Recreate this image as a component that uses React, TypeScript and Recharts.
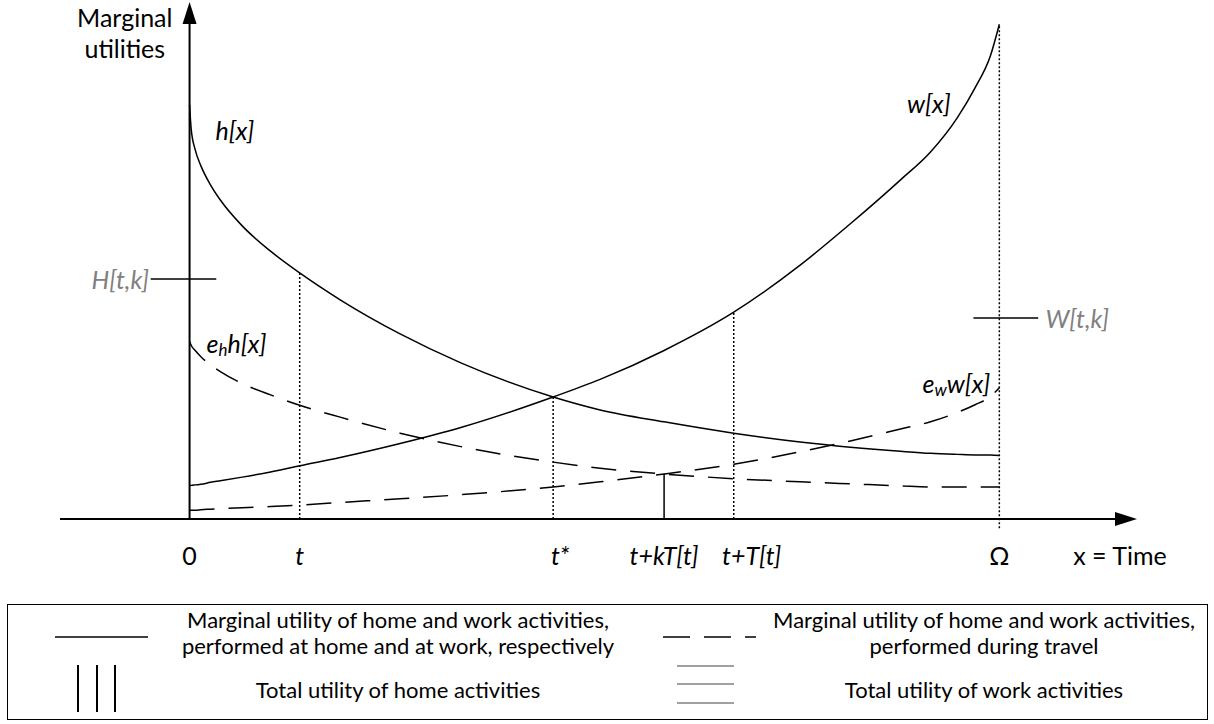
import React from "react";
import {
  ComposedChart,
  Line,
  XAxis,
  YAxis,
  ReferenceLine,
  ReferenceDot,
} from "recharts";

/* -----------------------------
   Data
   time: Omega = 10, height: axis top = 100
----------------------------- */
const TIME = [0, 0.02, 0.07, 0.14, 0.26, 0.38, 0.65, 1.0, 1.36, 1.86, 2.6, 3.35, 4.49, 5.07, 5.86, 6.72, 7.54, 8.16, 8.78, 9.15, 9.48, 9.7, 9.89, 10];
const HOME = [80.1, 75.4, 71.4, 68.3, 64.6, 61.7, 56.7, 51.8, 47.6, 42.4, 35.8, 30.2, 23.6, 21.1, 18.8, 16.6, 14.9, 13.9, 13.1, 12.7, 12.5, 12.4, 12.4, 12.3];
const WORK = [6.4, 6.5, 6.6, 6.7, 7.1, 7.4, 8.1, 9.1, 10.3, 11.9, 14.6, 17.7, 23.6, 27.0, 32.6, 40.0, 49.1, 57.1, 65.6, 71.0, 77.6, 83.4, 89.6, 95.7];
const HOME_TRAVEL = [34.4, 33.6, 32.6, 31.4, 29.8, 28.5, 26.2, 24.0, 22.0, 19.7, 16.6, 14.0, 11.0, 9.8, 8.7, 7.8, 7.2, 6.8, 6.4, 6.2, 6.2, 6.2, 6.2, 6.2];
const WORK_TRAVEL = [1.7, 1.7, 1.7, 1.8, 1.9, 2.0, 2.2, 2.4, 2.7, 3.2, 3.9, 4.7, 6.2, 7.2, 8.7, 10.6, 13.0, 15.1, 17.4, 18.8, 20.6, 22.1, 23.7, 25.4];

const TICKS = [0, 1.36, 4.49, 5.86, 6.72, 10];
const TICK_LABELS = ["0", "t", "t*", "t+kT[t]", "t+T[t]", "Ω"];
const TICK_ITALIC = [false, true, true, true, true, false];

const TOTAL_HOME = 46.4; // H[t,k]
const TOTAL_WORK = 38.9; // W[t,k]

const data = TIME.map((x, i) => ({
  x,
  h: HOME[i],
  w: WORK[i],
  eh: HOME_TRAVEL[i],
  ew: WORK_TRAVEL[i],
}));

const at = (arr: number[], x: number) => arr[TIME.indexOf(x)];

const FONT = "Lato, 'Open Sans', sans-serif";
const GRAY = "#808080";
const FS = 25;

const TICK_SHIFT = [0, 0, 7, 0, 18, 0];

function TimeTick(props: any) {
  const { x, y, payload } = props;
  const i = TICKS.indexOf(payload.value);
  return (
    <text
      x={x + (TICK_SHIFT[i] || 0)}
      y={y + 36}
      textAnchor="middle"
      dominantBaseline="central"
      fontFamily={FONT}
      fontSize={FS}
      fontStyle={TICK_ITALIC[i] ? "italic" : "normal"}
      fill="#000"
    >
      {TICK_LABELS[i]}
    </text>
  );
}

function Txt(props: any) {
  const { cx, cy, children, color = "#000", anchor = "start", italic = true } = props;
  return (
    <text
      x={cx}
      y={cy}
      textAnchor={anchor}
      dominantBaseline="central"
      fontFamily={FONT}
      fontSize={FS}
      fontStyle={italic ? "italic" : "normal"}
      fill={color}
    >
      {children}
    </text>
  );
}

function XAxisArrow(props: any) {
  const { x1, y1, x2 } = props;
  return (
    <g>
      <line x1={x1} y1={y1} x2={x2 - 18} y2={y1} stroke="#000" strokeWidth={2} />
      <polygon points={`${x2 - 22},${y1 - 7} ${x2},${y1} ${x2 - 22},${y1 + 7}`} fill="#000" />
    </g>
  );
}

function YAxisArrow(props: any) {
  const { x1, y1, y2 } = props;
  const top = Math.min(y1, y2);
  const bottom = Math.max(y1, y2);
  return (
    <g>
      <line x1={x1} y1={bottom} x2={x1} y2={top + 18} stroke="#000" strokeWidth={2} />
      <polygon points={`${x1 - 7},${top + 22} ${x1},${top} ${x1 + 7},${top + 22}`} fill="#000" />
    </g>
  );
}

export default function App() {
  const dotted = { stroke: "#000", strokeWidth: 1.5, strokeDasharray: "2 2" };

  return (
    <div style={{ position: "absolute", left: 0, top: 0, width: 1214, height: 724, background: "#fff" }}>
      <ComposedChart
        width={1214}
        height={600}
        data={data}
        margin={{ top: 2, right: 77, left: 60, bottom: 31 }}
        style={{ position: "absolute", left: 0, top: 0 }}
      >
        <XAxis
          type="number"
          dataKey="x"
          domain={[-1.6, 11.7]}
          ticks={TICKS}
          interval={0}
          axisLine={false}
          tickLine={false}
          tickSize={0}
          tickMargin={0}
          height={50}
          tick={<TimeTick />}
          allowDataOverflow
        />
        <YAxis type="number" domain={[0, 100]} hide allowDataOverflow />

        {/* axes */}
        <ReferenceLine y={0} shape={<XAxisArrow />} />
        <ReferenceLine x={0} shape={<YAxisArrow />} />

        {/* dotted guides */}
        <ReferenceLine segment={[{ x: TICKS[1], y: 0 }, { x: TICKS[1], y: at(HOME, TICKS[1]) }]} {...dotted} />
        <ReferenceLine segment={[{ x: TICKS[2], y: 0 }, { x: TICKS[2], y: at(HOME, TICKS[2]) }]} {...dotted} />
        <ReferenceLine segment={[{ x: TICKS[4], y: 0 }, { x: TICKS[4], y: at(WORK, TICKS[4]) }]} {...dotted} />
        <ReferenceLine
          segment={[{ x: TICKS[5], y: -1.8 }, { x: TICKS[5], y: at(WORK, TICKS[5]) }]}
          ifOverflow="visible"
          {...dotted}
        />
        <ReferenceLine
          segment={[{ x: TICKS[3], y: 0 }, { x: TICKS[3], y: at(HOME_TRAVEL, TICKS[3]) }]}
          stroke="#000"
          strokeWidth={1.5}
        />

        {/* total utility markers */}
        <ReferenceLine
          segment={[{ x: -0.48, y: TOTAL_HOME }, { x: 0.33, y: TOTAL_HOME }]}
          stroke="#000"
          strokeWidth={1.5}
          ifOverflow="visible"
        />
        <ReferenceLine
          segment={[{ x: 9.68, y: TOTAL_WORK }, { x: 10.48, y: TOTAL_WORK }]}
          stroke="#000"
          strokeWidth={1.5}
          ifOverflow="visible"
        />

        <Line type="monotone" dataKey="h" stroke="#000" strokeWidth={1.5} dot={false} isAnimationActive={false} />
        <Line type="monotone" dataKey="w" stroke="#000" strokeWidth={1.5} dot={false} isAnimationActive={false} />
        <Line
          type="monotone"
          dataKey="eh"
          stroke="#000"
          strokeWidth={1.5}
          strokeDasharray="25 14"
          dot={false}
          isAnimationActive={false}
        />
        <Line
          type="monotone"
          dataKey="ew"
          stroke="#000"
          strokeWidth={1.5}
          strokeDasharray="25 14"
          dot={false}
          isAnimationActive={false}
        />

        {/* labels */}
        <ReferenceDot x={0.32} y={75.2} ifOverflow="visible" shape={(p: any) => <Txt {...p}>h[x]</Txt>} />
        <ReferenceDot x={8.86} y={80.5} ifOverflow="visible" shape={(p: any) => <Txt {...p}>w[x]</Txt>} />
        <ReferenceDot
          x={0.21}
          y={34.0}
          ifOverflow="visible"
          shape={(p: any) => (
            <Txt {...p}>
              e<tspan fontSize={17} dy={6}>h</tspan>
              <tspan dy={-6}>h[x]</tspan>
            </Txt>
          )}
        />
        <ReferenceDot
          x={9.05}
          y={26.3}
          ifOverflow="visible"
          shape={(p: any) => (
            <Txt {...p}>
              e<tspan fontSize={17} dy={6}>w</tspan>
              <tspan dy={-6}>w[x]</tspan>
            </Txt>
          )}
        />
        <ReferenceDot
          x={-0.5}
          y={TOTAL_HOME}
          ifOverflow="visible"
          shape={(p: any) => (
            <Txt {...p} anchor="end" color={GRAY}>
              H[t,k]
            </Txt>
          )}
        />
        <ReferenceDot
          x={10.57}
          y={TOTAL_WORK}
          ifOverflow="visible"
          shape={(p: any) => (
            <Txt {...p} color={GRAY}>
              W[t,k]
            </Txt>
          )}
        />
        <ReferenceDot
          x={11.49}
          y={-6.9}
          ifOverflow="visible"
          shape={(p: any) => (
            <Txt {...p} anchor="middle" italic={false}>
              x = Time
            </Txt>
          )}
        />
        <ReferenceDot
          x={-0.8}
          y={97.1}
          ifOverflow="visible"
          shape={(p: any) => (
            <text x={p.cx} y={p.cy} textAnchor="middle" dominantBaseline="central" fontFamily={FONT} fontSize={FS}>
              <tspan x={p.cx}>Marginal</tspan>
              <tspan x={p.cx} dy={31}>utilities</tspan>
            </text>
          )}
        />
      </ComposedChart>

      {/* legend box */}
      <div
        style={{
          position: "absolute",
          left: 7,
          top: 604,
          width: 1201,
          height: 116,
          border: "1.5px solid #000",
          boxSizing: "border-box",
          fontFamily: FONT,
          fontSize: 22,
          color: "#000",
        }}
      >
        <svg width={1198} height={113} style={{ position: "absolute", left: 0, top: 0 }}>
          <line x1={47} y1={32} x2={140} y2={32} stroke="#000" strokeWidth={1.5} />
          <line x1={70} y1={60} x2={70} y2={107} stroke="#000" strokeWidth={2} />
          <line x1={89} y1={60} x2={89} y2={107} stroke="#000" strokeWidth={2} />
          <line x1={107} y1={60} x2={107} y2={107} stroke="#000" strokeWidth={2} />
          <line x1={655} y1={32} x2={748} y2={32} stroke="#000" strokeWidth={1.5} strokeDasharray="27 14" />
          <line x1={669} y1={61} x2={726} y2={61} stroke="#a0a0a0" strokeWidth={2} />
          <line x1={669} y1={79} x2={726} y2={79} stroke="#a0a0a0" strokeWidth={2} />
          <line x1={669} y1={98} x2={726} y2={98} stroke="#a0a0a0" strokeWidth={2} />
        </svg>
        <div style={{ position: "absolute", left: 140, top: 2, width: 500, textAlign: "center", lineHeight: "26px" }}>
          Marginal utility of home and work activities,
          <br />
          performed at home and at work, respectively
        </div>
        <div style={{ position: "absolute", left: 140, top: 72, width: 500, textAlign: "center", lineHeight: "26px" }}>
          Total utility of home activities
        </div>
        <div style={{ position: "absolute", left: 726, top: 2, width: 500, textAlign: "center", lineHeight: "26px" }}>
          Marginal utility of home and work activities,
          <br />
          performed during travel
        </div>
        <div style={{ position: "absolute", left: 726, top: 72, width: 500, textAlign: "center", lineHeight: "26px" }}>
          Total utility of work activities
        </div>
      </div>
    </div>
  );
}
